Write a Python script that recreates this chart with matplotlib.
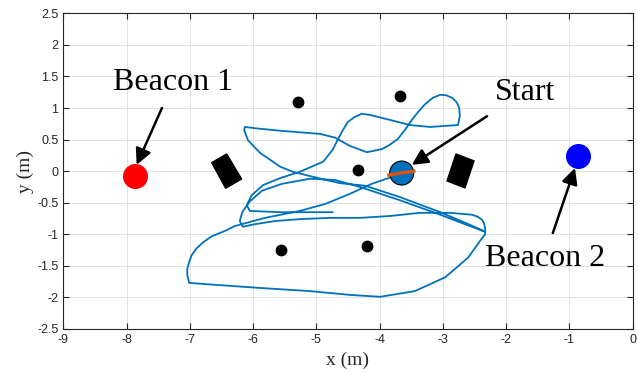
import matplotlib.pyplot as plt
from matplotlib.patches import Polygon, Circle

# trajectory (x, y) in metres
traj_x = [-3.66, -3.80, -4.12, -4.47, -4.86, -5.26, -5.81, -6.29, -6.45, -6.65,
          -6.78, -6.89, -6.97, -7.01, -7.04, -7.04, -7.01, -6.60, -5.89, -5.10,
          -4.47, -3.99, -3.44, -2.96, -2.60, -2.40, -2.33, -2.33, -2.35, -2.38,
          -2.45, -2.54, -2.89, -3.36, -3.83, -4.31, -4.78, -5.26, -5.65, -5.97,
          -6.16, -6.21, -6.17, -6.06, -5.86, -5.54, -5.10, -4.70, -4.31, -3.68,
          -3.04, -2.57, -2.33, -2.57, -3.04, -3.68, -4.23, -4.63, -5.05, -5.37,
          -5.57, -5.89, -6.08, -6.14, -6.13, -5.97, -5.57, -4.94, -4.70, -4.47,
          -4.20, -3.96, -3.85, -3.71, -3.60, -3.49, -3.38, -3.28, -3.16, -3.04,
          -2.94, -2.85, -2.78, -2.74, -2.73, -2.76, -3.20, -3.52, -3.83, -4.15,
          -4.28, -4.39, -4.50, -4.58, -4.66, -4.74, -4.89, -5.26, -5.57, -5.84,
          -6.02, -6.10, -6.05, -5.57, -4.74]
traj_y = [-0.01, -0.09, -0.20, -0.36, -0.52, -0.63, -0.74, -0.87, -0.95, -1.03,
          -1.12, -1.22, -1.33, -1.44, -1.55, -1.64, -1.77, -1.80, -1.85, -1.90,
          -1.96, -1.99, -1.90, -1.68, -1.37, -1.09, -1.00, -0.90, -0.82, -0.77,
          -0.72, -0.69, -0.66, -0.66, -0.71, -0.74, -0.74, -0.76, -0.79, -0.84,
          -0.88, -0.79, -0.65, -0.49, -0.31, -0.20, -0.12, -0.14, -0.25, -0.46,
          -0.69, -0.87, -0.96, -0.85, -0.65, -0.41, -0.23, -0.19, -0.09, -0.01,
          0.07, 0.29, 0.49, 0.65, 0.70, 0.68, 0.64, 0.59, 0.53, 0.40,
          0.30, 0.35, 0.41, 0.51, 0.65, 0.81, 0.95, 1.06, 1.16, 1.21,
          1.20, 1.16, 1.09, 1.00, 0.87, 0.73, 0.70, 0.73, 0.81, 0.89,
          0.91, 0.86, 0.78, 0.65, 0.50, 0.34, 0.15, -0.01, -0.11, -0.22,
          -0.38, -0.54, -0.63, -0.65, -0.65]

obst_x = [-5.29, -3.68, -4.34, -5.56, -4.20]
obst_y = [1.09, 1.19, 0.02, -1.25, -1.18]

box1 = [(-6.654, 0.135), (-6.417, 0.272), (-6.180, -0.124), (-6.433, -0.271)]
box2 = [(-2.791, 0.272), (-2.506, 0.162), (-2.649, -0.266), (-2.933, -0.155)]

beacon1 = (-7.87, -0.08)
beacon2 = (-0.86, 0.24)
start = (-3.65, -0.03)
heading_x = [-3.85, -3.46]
heading_y = [-0.06, 0.00]

# annotations: label, text position, arrow tail, arrow tip
notes = [("Beacon 1", (-7.27, 1.41), (-7.44, 1.00), (-7.84, 0.10)),
         ("Start", (-1.70, 1.24), (-2.30, 0.87), (-3.49, 0.10)),
         ("Beacon 2", (-1.38, -1.39), (-1.26, -0.98), (-0.91, 0.05))]

fig = plt.figure(figsize=(6.38, 3.73), dpi=100)
ax = fig.add_axes([0.0992, 0.118, 0.8922, 0.8463])

ax.plot(traj_x, traj_y, color='#0072BD', lw=1.3, zorder=3,
        solid_joinstyle='round', solid_capstyle='round')
ax.plot(obst_x, obst_y, 'o', color='k', ms=7.5, zorder=4)
ax.add_patch(Polygon(box1, closed=True, fc='k', ec='k', zorder=4))
ax.add_patch(Polygon(box2, closed=True, fc='k', ec='k', zorder=4))

ax.add_patch(Circle(start, 0.19, fc='#0072BD', ec='k', lw=0.8, zorder=5))
ax.plot(heading_x, heading_y, color='#D95319', lw=2.5, zorder=6)
ax.plot(*beacon1, 'o', color='#ff0000', ms=17, zorder=5)
ax.plot(*beacon2, 'o', color='#0000ff', ms=17, zorder=5)

for label, txt, tail, tip in notes:
    ax.annotate('', xy=tip, xytext=tail,
                arrowprops=dict(arrowstyle='-|>', color='k', lw=1.8,
                                mutation_scale=24, shrinkA=0, shrinkB=0),
                zorder=7)
    ax.text(txt[0], txt[1], label, family='Liberation Serif', fontsize=23,
            ha='center', va='center', zorder=7)

ax.set_xlim(-9, 0)
ax.set_ylim(-2.5, 2.5)
ax.set_xticks(range(-9, 1))
ax.set_yticks([-2.5, -2, -1.5, -1, -0.5, 0, 0.5, 1, 1.5, 2, 2.5])
ax.set_yticklabels(['-2.5', '-2', '-1.5', '-1', '-0.5', '0', '0.5', '1', '1.5', '2', '2.5'])
ax.set_xticklabels([str(v) for v in range(-9, 1)])
ax.grid(True, color='#e2e2e2', lw=0.7)
ax.set_axisbelow(True)
ax.tick_params(direction='in', length=4, width=0.8, top=True, right=True,
               labelsize=9, colors='#262626', labelcolor='#262626')
for lbl in ax.get_xticklabels() + ax.get_yticklabels():
    lbl.set_family('Liberation Sans')
for s in ax.spines.values():
    s.set_color('#262626')
    s.set_linewidth(0.8)

ax.set_xlabel('x (m)', family='Liberation Serif', fontsize=14, color='#262626', labelpad=4)
ax.set_ylabel('y (m)', family='Liberation Serif', fontsize=14, color='#262626', labelpad=2)

fig.savefig('out.png', dpi=100)
